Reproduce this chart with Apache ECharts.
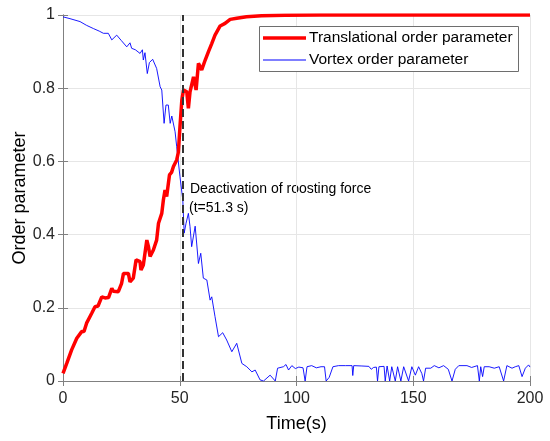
<!DOCTYPE html>
<html>
<head>
<meta charset="utf-8">
<script src="https://cdn.jsdelivr.net/npm/echarts@6/dist/echarts.min.js"></script>
<style>
  html, body { margin: 0; padding: 0; background: #fff; }
  #chart { width: 550px; height: 441px; }
</style>
</head>
<body>
<div id="chart"></div>
<script>
// values
const xTicks = [0, 50, 100, 150, 200];
const yTicks = [0, 0.2, 0.4, 0.6, 0.8, 1];
const deactivationTime = 51.3;

const transTime = [0, 1.6, 3.7, 5.9, 8, 9, 10.1, 12.3, 13.7, 15, 16.6, 18, 19.5, 20.9, 21.6, 23.7,
  25.1, 25.9, 28, 28.7, 30.1, 31.3, 33, 33.4, 34.4, 35.9, 36.6, 37.3, 38.7, 40.1, 40.9, 42.3,
  43, 43.7, 44.4, 45.6, 46.5, 47.3, 48.7, 49.4, 50.1, 50.9, 51.6, 52.3, 53, 53.7, 54.4, 55.9,
  57, 58, 59.4, 60.9, 62.3, 63.7, 65.1, 67.3, 69.4, 71.6, 74.4, 78.6, 85, 95, 110, 200];
const transValue = [0.021, 0.048, 0.085, 0.117, 0.135, 0.135, 0.158, 0.185, 0.203, 0.205, 0.23, 0.227, 0.228, 0.253, 0.245, 0.244,
  0.267, 0.294, 0.294, 0.271, 0.281, 0.331, 0.326, 0.303, 0.317, 0.385, 0.367, 0.34, 0.358, 0.385, 0.431, 0.458,
  0.495, 0.522, 0.504, 0.563, 0.57, 0.586, 0.604, 0.625, 0.695, 0.768, 0.795, 0.8, 0.79, 0.745, 0.79, 0.831,
  0.795, 0.868, 0.85, 0.877, 0.9, 0.922, 0.945, 0.97, 0.977, 0.988, 0.991, 0.995, 0.998, 0.999, 1, 1];

const vortexTime = [0, 3, 7.3, 10, 13, 15.5, 17.3, 19.4, 20.9, 23, 25, 27.3, 28.7, 29.4, 31, 33,
  34, 34.4, 35.1, 36.1, 37, 38.4, 40.1, 41.6, 42.3, 43.3, 44.1, 45.1, 45.9, 46.6, 48, 48.7,
  49.4, 50.1, 51.3, 51.9, 52.7, 53.7, 54.4, 55.1, 56.6, 58, 59, 60.1, 61.6, 63, 63.7, 65.1,
  66.6, 68.4, 70.1, 72.3, 74.4, 76.6, 78.7, 80.9, 82.3, 84.4, 85.9, 88.7, 90.9, 91.9,
  94.4, 95.5, 96.6, 98, 99.5, 101, 102.8, 103.7, 104.5, 106.5, 108.5, 110.5, 112, 112.7, 114, 115.6,
  118, 121, 123.8, 124.1, 124.5, 128, 131, 132, 133, 134.2, 134.7, 135.3, 137.5, 138, 138.8, 139.9,
  140.8, 142.3, 143.3, 144.7, 145.9, 148, 149.4, 150.9, 152.3, 153.7, 154.4, 155.3, 157.5, 159, 161, 163,
  165, 166.6, 168, 169.5, 173, 175, 177.5, 178.3, 178.9, 179.7, 180.4, 182.5, 184.7, 186.8, 188.7, 190.1,
  192.3, 193.7, 195.2, 196.6, 198, 199.4, 200];
const vortexValue = [0.995, 0.99, 0.982, 0.972, 0.963, 0.956, 0.95, 0.95, 0.932, 0.945, 0.93, 0.913, 0.924, 0.909, 0.905, 0.895,
  0.905, 0.877, 0.897, 0.84, 0.87, 0.879, 0.854, 0.804, 0.795, 0.704, 0.754, 0.754, 0.704, 0.724, 0.681, 0.64,
  0.64, 0.558, 0.495, 0.404, 0.431, 0.458, 0.422, 0.367, 0.423, 0.321, 0.349, 0.281, 0.276, 0.221, 0.23, 0.176,
  0.121, 0.132, 0.112, 0.08, 0.103, 0.048, 0.039, 0.025, 0.03, 0.003, 0, 0.016, 0, 0.035,
  0.039, 0.045, 0.03, 0.042, 0.034, 0.038, 0.036, 0, 0.039, 0.042, 0.036, 0.039, 0.039, 0, 0.01, 0.039,
  0.042, 0.042, 0.042, 0.015, 0.042, 0.041, 0.04, 0.032, 0.037, 0.038, 0, 0.039, 0.04, 0, 0.041, 0,
  0.039, 0, 0.039, 0, 0.039, 0, 0.039, 0.016, 0.039, 0.02, 0, 0.035, 0.035, 0.042, 0.036, 0.042,
  0.032, 0, 0.032, 0.042, 0.042, 0.037, 0.042, 0, 0.039, 0.012, 0.039, 0.039, 0.035, 0.039, 0, 0.042,
  0.035, 0.039, 0.042, 0.012, 0.035, 0.044, 0.038];

const toPairs = (xs, ys) => xs.map((x, i) => [x, ys[i]]);

const chart = echarts.init(document.getElementById("chart"));

const fontFam = "Liberation Sans, Arial, sans-serif";
const axisGray = "#808080";

// one legend per row so each sample line can have its own thickness
const legendRow = (name, top, h) => ({
  left: 263,
  top: top,
  padding: 0,
  itemWidth: 43,
  itemHeight: h,
  icon: "rect",
  z: 10,
  selectedMode: false,
  textStyle: { fontFamily: fontFam, fontSize: 15.5, color: "#000", padding: [0, 0, 0, -2] },
  data: [name],
});

chart.setOption({
  animation: false,
  backgroundColor: "#fff",
  grid: { left: 63, right: 20, top: 15, bottom: 60, outerBoundsMode: "none" },
  legend: [
    legendRow("Translational order parameter", 30, 3.5),
    legendRow("Vortex order parameter", 52, 1),
  ],
  xAxis: [
    {
      type: "value",
      min: xTicks[0],
      max: xTicks[xTicks.length - 1],
      interval: 50,
      name: "Time(s)",
      nameLocation: "middle",
      nameGap: 34,
      nameMoveOverlap: false,
      nameTextStyle: { fontFamily: fontFam, fontSize: 18, color: "#000" },
      axisLine: { show: true, lineStyle: { color: axisGray } },
      axisTick: { show: true, inside: true, length: 5, lineStyle: { color: axisGray } },
      axisLabel: { fontFamily: fontFam, fontSize: 16, color: "#262626", margin: 10 },
      splitLine: { show: true, lineStyle: { color: "#e6e6e6" } },
    },
    {
      type: "value",
      position: "top",
      min: xTicks[0],
      max: xTicks[xTicks.length - 1],
      interval: 50,
      axisLine: { show: true, lineStyle: { color: axisGray } },
      axisTick: { show: true, inside: true, length: 5, lineStyle: { color: axisGray } },
      axisLabel: { show: false },
      splitLine: { show: false },
    },
  ],
  yAxis: [
    {
      type: "value",
      min: yTicks[0],
      max: yTicks[yTicks.length - 1],
      interval: 0.2,
      name: "Order parameter",
      nameLocation: "middle",
      nameGap: 34,
      nameMoveOverlap: false,
      nameTextStyle: { fontFamily: fontFam, fontSize: 18, color: "#000" },
      axisLine: { show: true, lineStyle: { color: axisGray } },
      axisTick: { show: true, inside: true, length: 5, lineStyle: { color: axisGray } },
      axisLabel: { fontFamily: fontFam, fontSize: 16, color: "#262626", margin: 8 },
      splitLine: { show: true, lineStyle: { color: "#e6e6e6" } },
    },
    {
      type: "value",
      position: "right",
      min: yTicks[0],
      max: yTicks[yTicks.length - 1],
      interval: 0.2,
      axisLine: { show: true, lineStyle: { color: axisGray } },
      axisTick: { show: true, inside: true, length: 5, lineStyle: { color: axisGray } },
      axisLabel: { show: false },
      splitLine: { show: false },
    },
  ],
  series: [
    {
      name: "Vortex order parameter",
      type: "line",
      data: toPairs(vortexTime, vortexValue),
      symbol: "none",
      lineStyle: { color: "#0000ff", width: 0.9 },
      itemStyle: { color: "#0000ff" },
      z: 2,
    },
    {
      name: "Translational order parameter",
      type: "line",
      data: toPairs(transTime, transValue),
      symbol: "none",
      lineStyle: { color: "#ff0000", width: 3.5 },
      itemStyle: { color: "#ff0000" },
      z: 3,
      markLine: {
        silent: true,
        symbol: "none",
        label: { show: false },
        lineStyle: { color: "#333333", width: 2, type: [8, 4] },
        data: [{ xAxis: deactivationTime }],
      },
    },
  ],
  graphic: [
    {
      type: "rect",
      z: 5,
      shape: { x: 259.5, y: 26.5, width: 259, height: 45 },
      style: { fill: "#fff", stroke: "#6e6e6e", lineWidth: 1 },
    },
    {
      type: "text",
      left: 190,
      top: 182,
      style: { text: "Deactivation of roosting force", fontFamily: fontFam, fontSize: 14, fill: "#000" },
    },
    {
      type: "text",
      left: 189,
      top: 201,
      style: { text: "(t=51.3 s)", fontFamily: fontFam, fontSize: 14, fill: "#000" },
    },
  ],
});
</script>
</body>
</html>
